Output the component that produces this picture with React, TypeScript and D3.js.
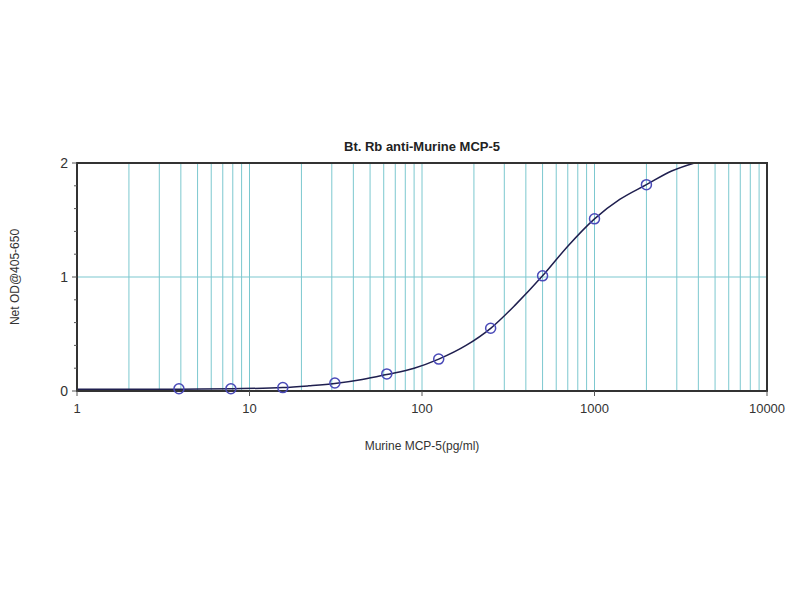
import React from "react";
import * as d3 from "d3";

const title = "Bt. Rb anti-Murine MCP-5";
const xTitle = "Murine MCP-5(pg/ml)";
const yTitle = "Net OD@405-650";

// standard concentrations (pg/ml) and measured OD
const concentrations = [3.9, 7.8, 15.6, 31.25, 62.5, 125, 250, 500, 1000, 2000];
const odValues = [0.02, 0.02, 0.03, 0.07, 0.15, 0.28, 0.55, 1.01, 1.51, 1.81];

// fitted curve
const curveX = [1, 2, 4, 8, 15.6, 22, 31.25, 45, 62.5, 90, 125, 180, 250, 350, 500, 700, 1000, 1400, 2000, 2800, 3800];
const curveY = [0.015, 0.015, 0.016, 0.02, 0.03, 0.045, 0.065, 0.1, 0.145, 0.2, 0.28, 0.4, 0.55, 0.76, 1.01, 1.27, 1.51, 1.68, 1.81, 1.93, 2.0];

const xTickValues = [1, 10, 100, 1000, 10000];
const yTickValues = [0, 1, 2];
const yMinorTicks = [0.2, 0.4, 0.6, 0.8, 1.2, 1.4, 1.6, 1.8];
const hGrid = [1];

export default function App() {
  const W = 800, H = 600;
  const L = 77, R = 767, T = 163, B = 391;
  const x = d3.scaleLog().domain([1, 10000]).range([L, R]);
  const y = d3.scaleLinear().domain([0, 2]).range([B, T]);

  const vGrid: number[] = [];
  for (let d = 1; d < 10000; d *= 10) {
    for (let k = d === 1 ? 2 : 1; k <= 9; k++) vGrid.push(d * k);
  }

  const line = d3
    .line<number>()
    .x((_, i) => x(curveX[i]))
    .y((_, i) => y(curveY[i]))
    .curve(d3.curveMonotoneX);

  const font = "'Liberation Sans', Arial, sans-serif";
  const textCol = "#333";

  return (
    <svg width={W} height={H} style={{ position: "absolute", left: 0, top: 0 }} fontFamily={font}>
      <rect x={0} y={0} width={W} height={H} fill="#fff" />
      <defs>
        <clipPath id="plot">
          <rect x={L} y={T} width={R - L} height={B - T} />
        </clipPath>
      </defs>
      {vGrid.map((v, i) => (
        <line key={"v" + i} x1={x(v)} x2={x(v)} y1={T} y2={B} stroke="#7cc8cf" strokeWidth={1} />
      ))}
      {hGrid.map((v, i) => (
        <line key={"h" + i} x1={L} x2={R} y1={y(v)} y2={y(v)} stroke="#7cc8cf" strokeWidth={1.2} />
      ))}
      <path d={line(curveY) || ""} fill="none" stroke="#1f1f4f" strokeWidth={1.5} clipPath="url(#plot)" />
      <rect x={L} y={T} width={R - L} height={B - T} fill="none" stroke="#333" strokeWidth={2} />
      {concentrations.map((c, i) => (
        <circle key={"p" + i} cx={x(c)} cy={y(odValues[i])} r={5} fill="none" stroke="#4a4ab8" strokeWidth={1.5} />
      ))}
      {yTickValues.map((v) => (
        <g key={"yt" + v}>
          <line x1={L - 5} x2={L} y1={y(v)} y2={y(v)} stroke="#555" />
          <text x={L - 9} y={y(v)} dy="0.35em" textAnchor="end" fontSize={14} fill={textCol}>
            {v}
          </text>
        </g>
      ))}
      {yMinorTicks.map((v) => (
        <line key={"ym" + v} x1={L - 3} x2={L} y1={y(v)} y2={y(v)} stroke="#555" />
      ))}
      {xTickValues.map((v) => (
        <g key={"xt" + v}>
          <line x1={x(v)} x2={x(v)} y1={B} y2={B + 5} stroke="#555" />
          <text x={x(v)} y={B + 22} textAnchor="middle" fontSize={13} fill={textCol}>
            {v}
          </text>
        </g>
      ))}
      <text x={(L + R) / 2} y={450} textAnchor="middle" fontSize={12} fill={textCol}>
        {xTitle}
      </text>
      <text
        transform={`translate(19, ${(T + B) / 2}) rotate(-90)`}
        textAnchor="middle"
        fontSize={12}
        fill={textCol}
      >
        {yTitle}
      </text>
      <text x={(L + R) / 2} y={151} textAnchor="middle" fontSize={13} fontWeight="bold" fill="#222">
        {title}
      </text>
    </svg>
  );
}
